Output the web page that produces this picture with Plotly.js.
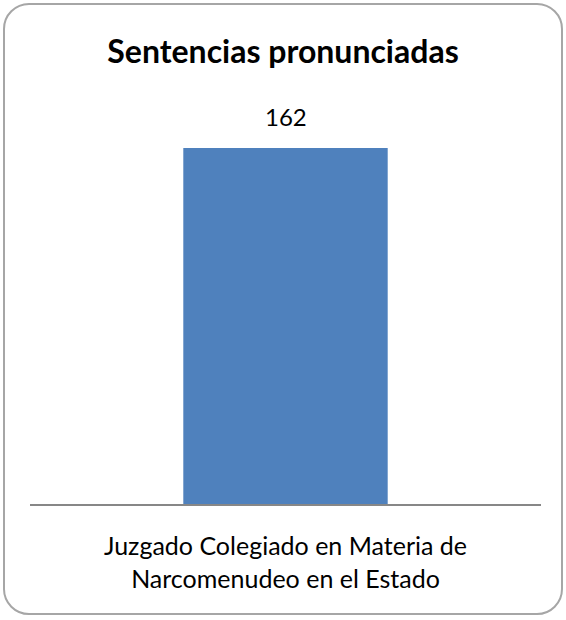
<!DOCTYPE html>
<html><head><meta charset="utf-8">
<script src="https://cdn.plot.ly/plotly-3.0.1.min.js"></script>
<style>
html,body{margin:0;padding:0;background:#fff;}
#wrap{position:relative;width:566px;height:620px;}
#chart{position:absolute;left:0;top:0;width:566px;height:620px;}
#frame{position:absolute;left:3px;top:3px;width:556px;height:608px;border:2px solid #a6a6a6;border-radius:26px;pointer-events:none;}
</style></head>
<body>
<div id="wrap"><div id="chart"></div><div id="frame"></div></div>
<script>
const categories = ["Juzgado Colegiado en Materia de<br>Narcomenudeo en el Estado"];
const values = [162];
const titleText = "Sentencias pronunciadas";
const fontFam = "Lato, 'Open Sans', sans-serif";

const trace = {
  type: 'bar', x: categories, y: values,
  marker: {color: '#4f81bd'},
  hoverinfo: 'none'
};
const layout = {
  width: 566, height: 620,
  margin: {l: 30, r: 25, t: 148, b: 116, pad: 0},
  paper_bgcolor: '#fff', plot_bgcolor: '#fff',
  bargap: 0.6,
  showlegend: false,
  title: {text: '<b>' + titleText + '</b>', font: {family: fontFam, size: 32, color: '#000'}, x: 0.5, xanchor: 'center', y: 1 - 52/620, yanchor: 'middle'},
  xaxis: {showline: true, linecolor: '#878787', linewidth: 2, ticks: '', tickfont: {family: fontFam, size: 25, color: '#000'}, ticklabelstandoff: 19, fixedrange: true},
  yaxis: {range: [0, values[0]], visible: false, showgrid: false, zeroline: false, fixedrange: true},
  annotations: categories.map((c, i) => ({x: c, y: values[i], xref: 'x', yref: 'y', text: String(values[i]), showarrow: false, yanchor: 'bottom', yshift: 15, font: {family: fontFam, size: 24, color: '#000'}}))
};
Plotly.newPlot('chart', [trace], layout, {staticPlot: true, displayModeBar: false});
</script>
</body></html>
